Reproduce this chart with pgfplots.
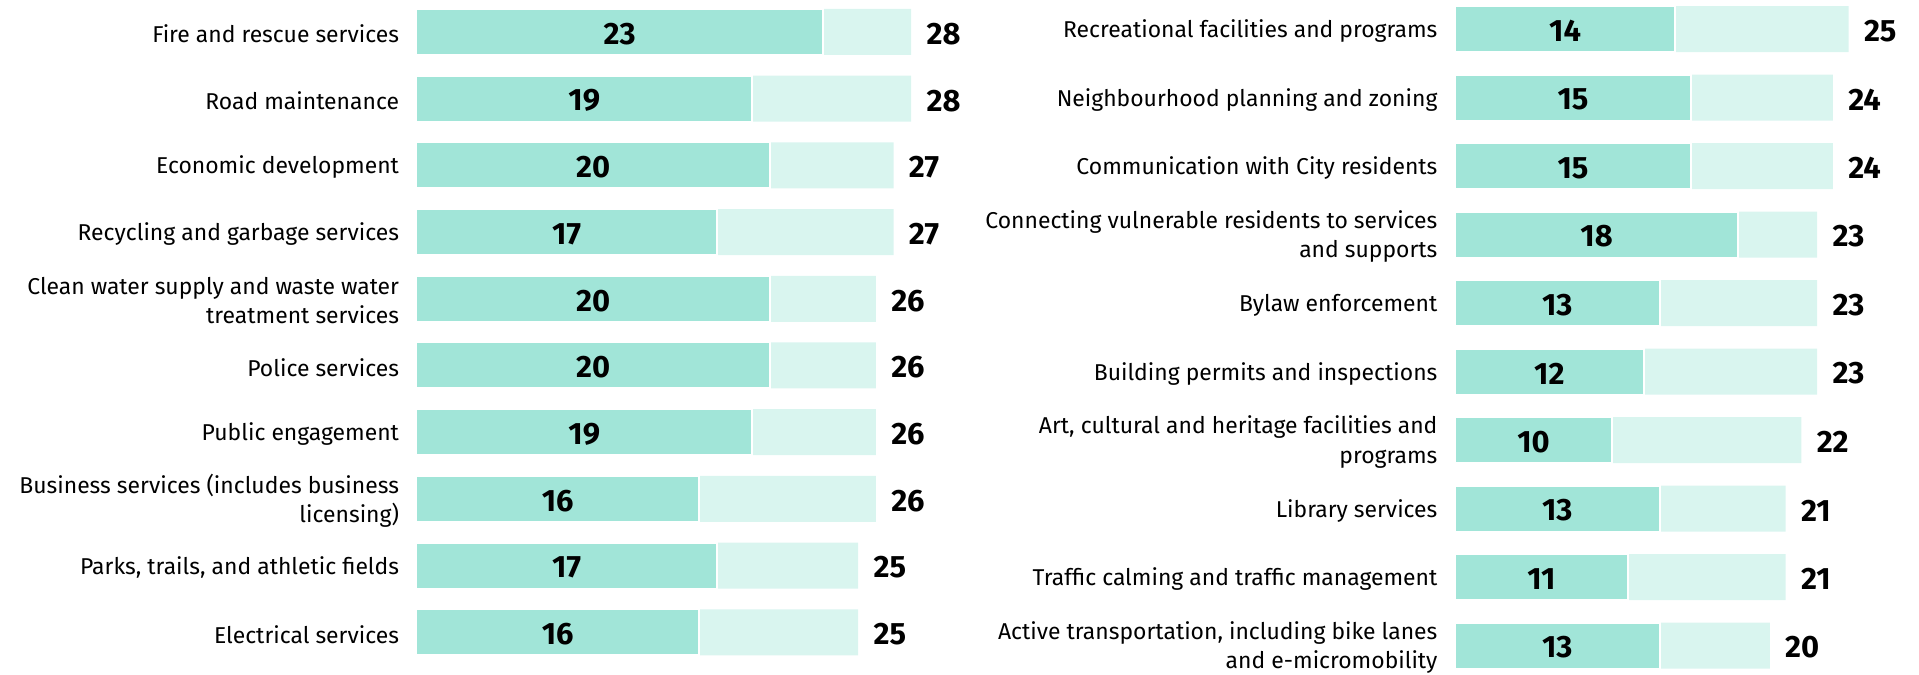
\documentclass[border=0pt]{standalone}
\usepackage{pgfplots}
\pgfplotsset{compat=1.18}
\usepackage{pgfplotstable}
\usepackage{fontspec}
\setmainfont{Fira Sans}

\definecolor{tealdark}{HTML}{A1E5D8}
\definecolor{teallight}{HTML}{D9F5EF}

% row value total
\pgfplotstableread{
row value total
0 23 28
1 19 28
2 20 27
3 17 27
4 20 26
5 20 26
6 19 26
7 16 26
8 17 25
9 16 25
}\lefttable

\pgfplotstableread{
row value total
0 14 25
1 15 24
2 15 24
3 18 23
4 13 23
5 12 23
6 10 22
7 13 21
8 11 21
9 13 20
}\righttable

\pgfplotsset{
  servbars/.style={
    scale only axis,
    y dir=reverse,
    ymin=-0.5, ymax=9.5,
    xmin=0,
    clip=false,
    axis line style={draw=none},
    major tick length=0pt,
    xtick=\empty,
    ytick={0,...,9},
    yticklabel style={font=\fontsize{11.5}{14.8}\selectfont, align=right,
      inner sep=0pt, xshift=-8.5bp, yshift=-1bp},
    every node near coord/.append style={font=\fontsize{15.5}{16}\selectfont\bfseries,
      yshift=-1bp},
  },
  lightbar/.style={xbar, bar shift=0pt, bar width=23bp, fill=teallight, draw=none,
    nodes near coords, point meta=explicit symbolic,
    nodes near coords style={anchor=west, inner sep=0pt, xshift=7.5bp}},
  darkbar/.style={xbar, bar shift=0pt, bar width=23bp, fill=tealdark, draw=white,
    line width=1bp},
  midlabel/.style={draw=none, mark=none, nodes near coords, point meta=explicit symbolic,
    nodes near coords style={anchor=center, inner sep=0pt}},
}

\begin{document}
\begin{tikzpicture}
\useasboundingbox (0,-337.5bp) rectangle (959.5bp,0);

\begin{axis}[servbars,
  at={(208.2bp,0.7bp)}, anchor=north west,
  width=247.4bp, height=333.5bp, xmax=28,
  yticklabels={
    Fire and rescue services,
    Road maintenance,
    Economic development,
    Recycling and garbage services,
    {Clean water supply and waste water\\treatment services},
    Police services,
    Public engagement,
    {Business services (includes business\\licensing)},
    {Parks, trails, and athletic fields},
    Electrical services},
]
\addplot[lightbar] table[x=total, y=row, meta=total] {\lefttable};
\addplot[darkbar] table[x=value, y=row] {\lefttable};
\addplot[midlabel] table[x expr=\thisrow{value}/2, y=row, meta=value] {\lefttable};
\end{axis}

\begin{axis}[servbars,
  at={(727.4bp,2.6bp)}, anchor=north west,
  width=196.9bp, height=342.5bp, xmax=25,
  yticklabels={
    Recreational facilities and programs,
    Neighbourhood planning and zoning,
    Communication with City residents,
    {Connecting vulnerable residents to services\\and supports},
    Bylaw enforcement,
    Building permits and inspections,
    {Art, cultural and heritage facilities and\\programs},
    Library services,
    Traffic calming and traffic management,
    {Active transportation, including bike lanes\\and e-micromobility}},
]
\addplot[lightbar] table[x=total, y=row, meta=total] {\righttable};
\addplot[darkbar] table[x=value, y=row] {\righttable};
\addplot[midlabel] table[x expr=\thisrow{value}/2, y=row, meta=value] {\righttable};
\end{axis}
\end{tikzpicture}
\end{document}
